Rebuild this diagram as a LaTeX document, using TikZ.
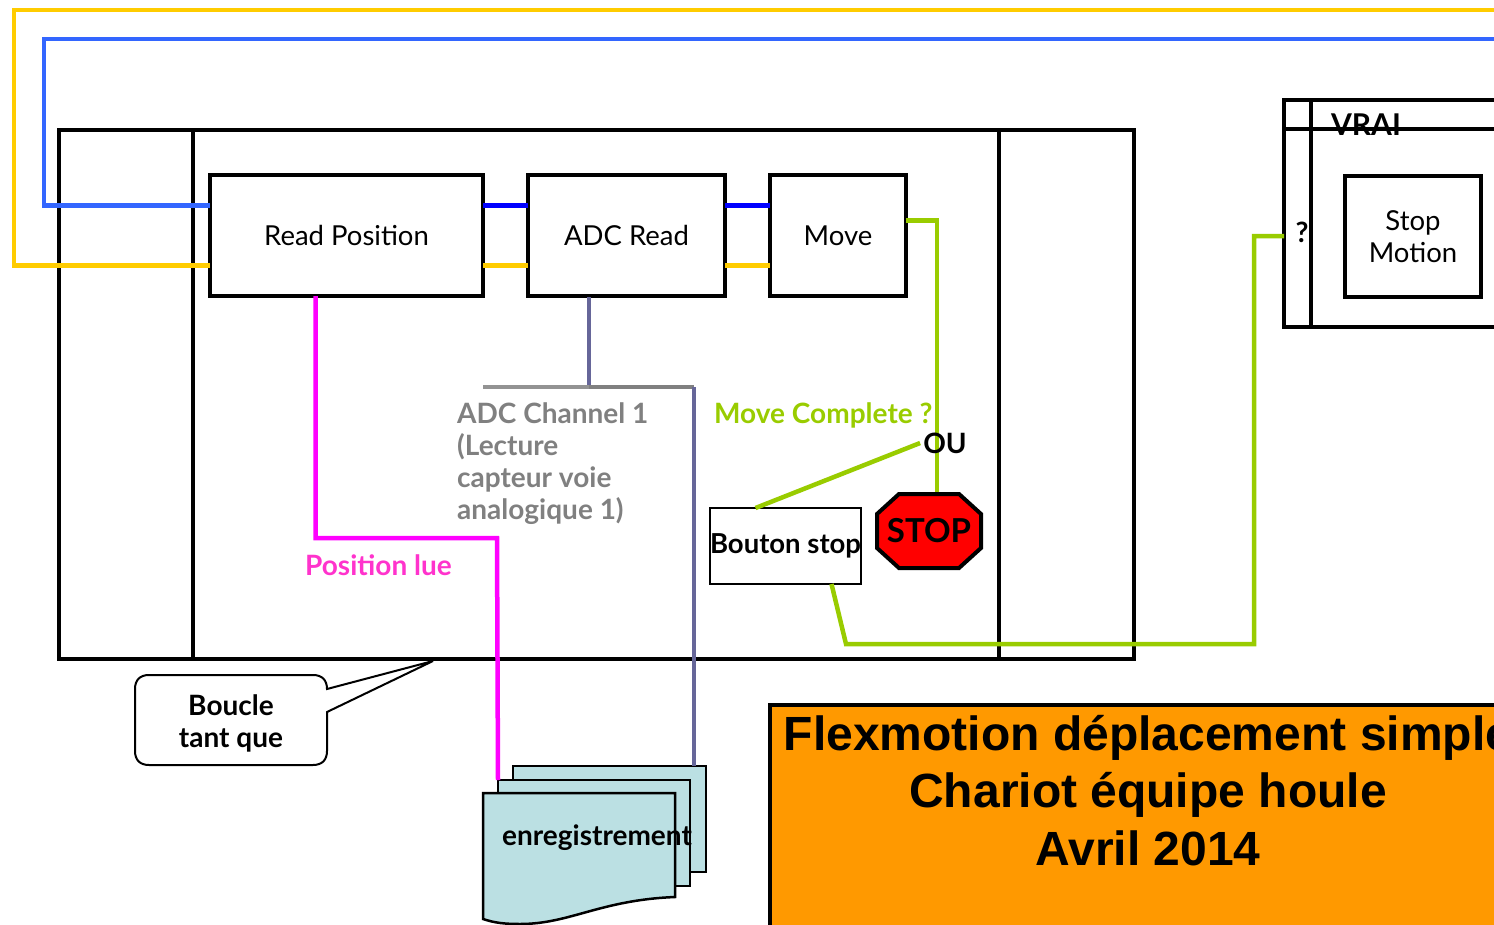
\documentclass[tikz,border=0pt]{standalone}
\usepackage{fontspec}
\usepackage{xcolor}
\usepackage{tikz}
\usetikzlibrary{positioning}
\setmainfont{Lato}
\newfontfamily\titlefont{Liberation Sans}
\definecolor{wireyel}{RGB}{255,204,0}
\definecolor{wireblu}{RGB}{51,102,255}
\definecolor{wiredbl}{RGB}{0,0,255}
\definecolor{wiremag}{RGB}{255,0,255}
\definecolor{wireslt}{RGB}{102,102,153}
\definecolor{wiregrn}{RGB}{153,204,0}
\definecolor{txtmag}{RGB}{255,51,204}
\definecolor{docfill}{RGB}{187,224,227}
\definecolor{ttlfill}{RGB}{255,153,0}

\begin{document}
\begin{tikzpicture}[x=1pt,y=-1pt,
  box/.style={rectangle,draw=black,line width=4pt,inner sep=0pt,outer sep=0pt,
              minimum height=121pt,align=center,font=\fontsize{27.5}{32}\selectfont},
  frame/.style={draw=black,line width=4pt},
  doc/.style={rectangle,draw=black,fill=docfill,line width=2.5pt,inner sep=0pt,outer sep=0pt},
  lbl/.style={inner sep=0pt,align=left,font=\fontsize{28}{32}\selectfont\bfseries},
  wire/.style={line width=4.5pt,line join=miter}]
\useasboundingbox (0,0) rectangle (1494,924);
% free ends at the right edge
\coordinate (yelend) at (1500,10);
\coordinate (bluend) at (1500,39);
\coordinate (stoptop) at (937,494);

% main loop
\node[frame,rectangle,inner sep=0pt,outer sep=0pt,minimum width=1075pt,minimum height=529pt] (loop) at (596,394.5) {};
\draw[frame] (193,130) -- (193,659);
\draw[frame] (999,130) -- (999,659);

\node[box,minimum width=273pt] (rp) at (346.5,235.5) {Read Position};
\node[box,right=45pt of rp,minimum width=197pt] (adc) {ADC Read};
\node[box,right=45pt of adc,minimum width=136pt] (mv) {Move};

% stack of records
\node[doc,minimum width=193pt,minimum height=106pt] (docb) at (609.5,819) {};
\node[doc,minimum width=192pt,minimum height=106pt] (docm) at (594,833) {};
\draw[doc] (483,793) -- (675,793) -- (675,897) .. controls (600,900) and (570,924) .. (520,924)
  .. controls (505,924) and (495,923) .. (483,919) -- cycle;
\node[lbl] (rec) at (597,838) {enregistrement};

% wires
\draw[wire,wireblu] ([yshift=30pt]rp.west) -- (44,205.5) -- (44,39) -- (bluend);
\draw[wire,wireyel] ([yshift=-30pt]rp.west) -- (14,265.5) -- (14,10) -- (yelend);
\draw[wire,wiredbl] ([yshift=30pt]rp.east) -- ([yshift=30pt]adc.west);
\draw[wire,wireyel] ([yshift=-30pt]rp.east) -- ([yshift=-30pt]adc.west);
\draw[wire,wiredbl] ([yshift=30pt]adc.east) -- ([yshift=30pt]mv.west);
\draw[wire,wireyel] ([yshift=-30pt]adc.east) -- ([yshift=-30pt]mv.west);
\draw[wire,wiremag] ([xshift=-31pt]rp.south) -- (315.5,538) -- (497,538) -- (docm.north west);
\draw[wire,wireslt] (589,297) -- (589,387);
\draw[wire,gray!85] (483,387) -- (589,387);
\draw[wire,gray] (589,387) -- (694,387);
\draw[wire,wireslt] (694,387) -- ([xshift=-12pt]docb.north east);

% stop and button
\draw[wire,wiregrn] ([yshift=15pt]mv.east) -- (937,220.5) -- (stoptop);
\draw[draw=black,fill=red,line width=4pt] (899,494) -- (959,494) -- (981,514) -- (981,548)
  -- (959,568) -- (899,568) -- (877,548) -- (877,514) -- cycle;
\node[lbl,font=\fontsize{33}{36}\selectfont\bfseries] (stop) at (929,531) {STOP};
\node[rectangle,draw=black,line width=2pt,inner sep=0pt,outer sep=0pt,minimum width=151pt,minimum height=76pt,
  font=\fontsize{27.5}{30}\selectfont\bfseries] (btn) at (785.5,546) {Bouton stop};
\node[lbl] (ou) at (945,443) {OU};
\draw[wire,wiregrn] ([xshift=-30pt]btn.north) -- ([xshift=-3pt]ou.west);

% right hand case
\node[frame,rectangle,inner sep=0pt,outer sep=0pt,anchor=north west,minimum width=230pt,minimum height=227pt] (cas) at (1284,100) {};
\draw[frame] (1284,129) -- (1510,129);
\draw[frame] (1311,100) -- (1311,327);
\node[box,minimum width=136pt] (sm) at (1413,236.5) {Stop\\Motion};
\node[lbl,font=\fontsize{30}{32}\selectfont\bfseries] (vrai) at (1366,125) {VRAI};
\node[lbl] (qm) at (1302,232) {?};
\draw[wire,wiregrn] ([xshift=46pt]btn.south) -- (846,644) -- (1254,644) -- (1254,236) -- (cas.west |- 0,236);

% labels
\node[lbl,gray,anchor=west] (adclbl) at (457,464) {ADC Channel 1\\(Lecture\\capteur voie\\analogique 1)};
\node[lbl,wiregrn,anchor=west] (mvlbl) at (714,415) {Move Complete ?};
\node[lbl,txtmag,anchor=west] (poslbl) at (305,565) {Position lue};

% callout
\draw[line width=2pt,fill=white] (149,675) -- (313,675) .. controls (322,675) and (327,680) .. (327,689)
  -- (433,661) -- (327,712) -- (327,751) .. controls (327,760) and (322,765) .. (313,765)
  -- (149,765) .. controls (140,765) and (135,760) .. (135,751) -- (135,689)
  .. controls (135,680) and (140,675) .. (149,675) -- cycle;
\node[lbl,align=center] (bq) at (231,723) {Boucle\\tant que};

% title
\node[rectangle,draw=black,fill=ttlfill,line width=4pt,inner sep=0pt,outer sep=0pt,anchor=north west,
  minimum width=760pt,minimum height=240pt] (tbox) at (770,705) {};
\node[inner sep=0pt,align=center,font=\titlefont\fontsize{48}{57.5}\selectfont\bfseries] (ttl) at (1148,790.5)
  {Flexmotion déplacement simple\\Chariot équipe houle\\Avril 2014};
\end{tikzpicture}
\end{document}
